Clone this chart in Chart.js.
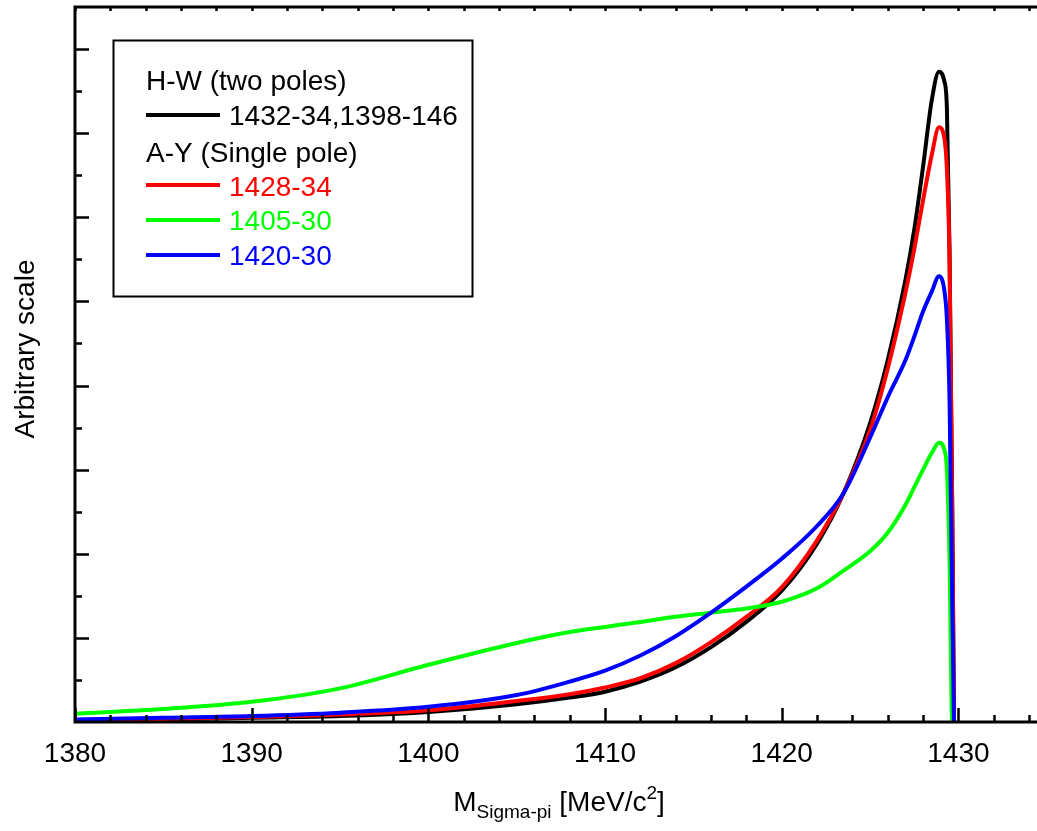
<!DOCTYPE html>
<html>
<head>
<meta charset="utf-8">
<title>Sigma-pi mass spectrum</title>
<script src="https://cdn.jsdelivr.net/npm/chart.js@4.4.1/dist/chart.umd.min.js"></script>
<style>
  html, body { margin: 0; padding: 0; background: #fff; overflow: hidden; }
  canvas { display: block; }
</style>
</head>
<body>
<canvas id="spectrum" width="1037" height="831"></canvas>
<script>
const massValues = [1380, 1385, 1390, 1395, 1400, 1405, 1408, 1410, 1412, 1414, 1416, 1418, 1420, 1422,
    1423.5, 1425, 1426, 1427, 1427.5, 1428, 1428.5, 1428.9, 1429.2, 1429.35, 1429.5, 1429.65, 1429.75];

// H-W (two poles): 1432-34, 1398-146
const hwTwoPoles = [0.02, 0.03, 0.05, 0.07, 0.12, 0.21, 0.29, 0.36, 0.48, 0.65, 0.89, 1.19, 1.56, 2.12,
    2.72, 3.55, 4.30, 5.25, 5.85, 6.60, 7.40, 7.73, 7.62, 7.30, 5.60, 2.60, 0];
// A-Y (single pole)
const ay1428 = [0.02, 0.035, 0.06, 0.09, 0.14, 0.25, 0.33, 0.41, 0.52, 0.70, 0.95, 1.25, 1.60, 2.16,
    2.72, 3.47, 4.20, 5.10, 5.62, 6.20, 6.75, 7.07, 6.95, 6.57, 5.50, 2.60, 0];
const ay1405 = [0.10, 0.155, 0.24, 0.40, 0.68, 0.94, 1.07, 1.13, 1.19, 1.25, 1.30, 1.35, 1.43, 1.59,
    1.80, 2.03, 2.25, 2.58, 2.79, 3.00, 3.20, 3.32, 3.24, 3.00, 1.93, 0, 0];
const ay1420 = [0.03, 0.05, 0.07, 0.11, 0.18, 0.32, 0.48, 0.61, 0.79, 1.02, 1.30, 1.61, 1.94, 2.33,
    2.72, 3.38, 3.86, 4.30, 4.58, 4.88, 5.12, 5.30, 5.14, 4.79, 3.83, 1.45, 0];

const xTickLabels = [1380, 1390, 1400, 1410, 1420, 1430];
const xMinorStep = 2;
const yMinorStep = 0.5;

const FONT = '"Liberation Sans", Arial, sans-serif';

function toPoints(values) {
    return massValues.map((m, i) => ({ x: m, y: values[i] }));
}

// axes frame, inward ticks, titles and the boxed legend
const framePlugin = {
    id: 'frame',
    afterDraw(chart) {
        const { ctx, chartArea: a, scales: { x, y } } = chart;
        ctx.save();
        ctx.strokeStyle = '#000';
        ctx.fillStyle = '#000';

        ctx.lineWidth = 3;
        ctx.beginPath();
        ctx.moveTo(a.left, a.top); ctx.lineTo(a.right, a.top);
        ctx.moveTo(a.left, a.top - 1.5); ctx.lineTo(a.left, a.bottom + 1.5);
        ctx.moveTo(a.left, a.bottom); ctx.lineTo(a.right, a.bottom);
        ctx.stroke();

        ctx.lineWidth = 2.5;
        ctx.beginPath();
        for (let v = x.min; v <= x.max; v += xMinorStep) {
            const px = Math.round(x.getPixelForValue(v)) + 0.5;
            const len = xTickLabels.includes(v) ? 14 : 7;
            ctx.moveTo(px, a.bottom); ctx.lineTo(px, a.bottom - len);
            ctx.moveTo(px, a.top); ctx.lineTo(px, a.top + 4);
        }
        for (let v = yMinorStep; v < y.max; v += yMinorStep) {
            const py = Math.round(y.getPixelForValue(v)) + 0.5;
            const len = Number.isInteger(v) ? 14 : 7;
            ctx.moveTo(a.left, py); ctx.lineTo(a.left + len, py);
        }
        ctx.stroke();

        ctx.font = '28px ' + FONT;
        ctx.textAlign = 'center';
        ctx.textBaseline = 'alphabetic';
        xTickLabels.forEach(v => ctx.fillText(String(v), x.getPixelForValue(v), 762));

        // y title
        ctx.save();
        ctx.translate(34, 349);
        ctx.rotate(-Math.PI / 2);
        ctx.fillText('Arbitrary scale', 0, 0);
        ctx.restore();

        // x title with subscript and superscript
        const parts = [
            { t: 'M', size: 28, dy: 0 },
            { t: 'Sigma-pi', size: 19, dy: 7 },
            { t: ' [MeV/c', size: 28, dy: 0 },
            { t: '2', size: 19, dy: -12 },
            { t: ']', size: 28, dy: 0 }
        ];
        ctx.textAlign = 'left';
        let total = 0;
        parts.forEach(p => { ctx.font = p.size + 'px ' + FONT; p.w = ctx.measureText(p.t).width; total += p.w; });
        let tx = (a.left + a.right) / 2 - total / 2 + 3;
        parts.forEach(p => {
            ctx.font = p.size + 'px ' + FONT;
            ctx.fillText(p.t, tx, 811 + p.dy);
            tx += p.w;
        });

        // legend box
        ctx.lineWidth = 2;
        ctx.strokeRect(113.5, 40.5, 359, 256);
        ctx.font = '28px ' + FONT;
        ctx.fillStyle = '#000';
        ctx.fillText('H-W (two poles)', 146, 90);
        ctx.fillText('A-Y (Single pole)', 146, 162);
        chart.data.datasets.forEach(ds => {
            const row = ds.legendRow;
            ctx.strokeStyle = ds.borderColor;
            ctx.lineWidth = 4;
            ctx.beginPath();
            ctx.moveTo(146, row.line); ctx.lineTo(220, row.line);
            ctx.stroke();
            ctx.fillStyle = ds.label.startsWith('1432') ? '#000' : ds.borderColor;
            ctx.fillText(ds.label, 229, row.text);
        });
        ctx.restore();
    }
};

const ctx = document.getElementById('spectrum').getContext('2d');
new Chart(ctx, {
    type: 'line',
    data: {
        datasets: [
            { label: '1432-34,1398-146', data: toPoints(hwTwoPoles), borderColor: '#000000', order: 4, legendRow: { line: 115, text: 125 } },
            { label: '1428-34', data: toPoints(ay1428), borderColor: '#ff0000', order: 3, legendRow: { line: 185, text: 196 } },
            { label: '1405-30', data: toPoints(ay1405), borderColor: '#00ff00', order: 2, legendRow: { line: 220, text: 230 } },
            { label: '1420-30', data: toPoints(ay1420), borderColor: '#0000ff', order: 1, legendRow: { line: 255, text: 265 } }
        ]
    },
    options: {
        responsive: false,
        animation: false,
        layout: { padding: { left: 75, right: 0, top: 7, bottom: 109 } },
        elements: {
            point: { radius: 0 },
            line: { borderWidth: 4, fill: false, cubicInterpolationMode: 'monotone' }
        },
        plugins: { legend: { display: false }, tooltip: { enabled: false } },
        scales: {
            x: { type: 'linear', min: 1380, max: 1434.45, display: false },
            y: { min: 0, max: 8.5, display: false }
        }
    },
    plugins: [framePlugin]
});
</script>
</body>
</html>
